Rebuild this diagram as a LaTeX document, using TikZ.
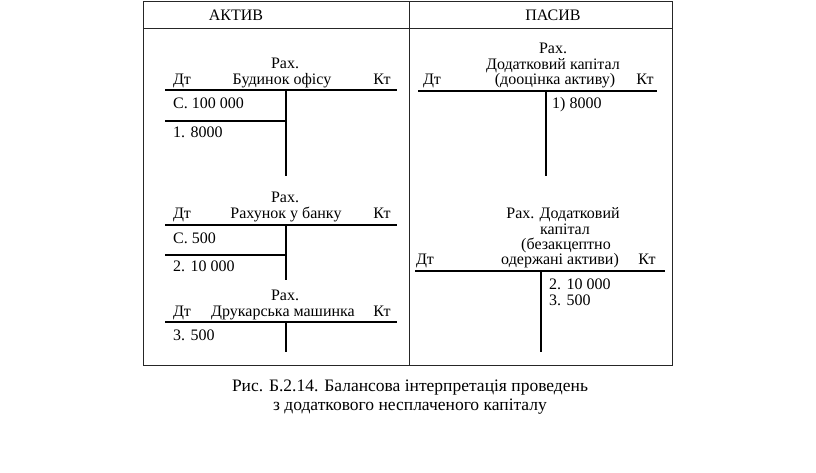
\documentclass[tikz,border=0pt]{standalone}
\usepackage{fontspec}
\setmainfont{Liberation Serif}
\begin{document}
\begin{tikzpicture}[x=1pt,y=-1pt,
  txt/.style={anchor=base,inner sep=0pt,font=\fontsize{16}{16}\selectfont},
  txtl/.style={txt,anchor=base west},
  captxt/.style={anchor=base,inner sep=0pt,font=\fontsize{17.5}{19}\selectfont},
  frame/.style={draw=black!85,line width=0.9pt},
  tline/.style={draw=black,line width=1.3pt}]
\useasboundingbox (0,0) rectangle (816,472);
% frame
\draw[frame] (143,1) rectangle (672,365);
\draw[frame] (143,28) -- (672,28);
\draw[frame] (409,1) -- (409,365);
\node[txt] (hA) at (236,20) {АКТИВ};
\node[txt] (hP) at (553,20) {ПАСИВ};
% account 1
\node[txt] (a1r) at (285,68) {Рах.};
\node[txt] (a1d) at (182,84) {Дт};
\node[txt] (a1n) at (282,84) {Будинок офісу};
\node[txt] (a1k) at (382,84) {Кт};
\draw[tline] (165,90) -- (397,90);
\draw[tline] (286,90) -- (286,176);
\draw[tline] (165,121) -- (286,121);
\node[txtl] (a1s) at (173,108) {С. 100 000};
\node[txtl] (a1o) at (173,137) {1. 8000};
% account 2
\node[txt] (a2r) at (285,202) {Рах.};
\node[txt] (a2d) at (182,218) {Дт};
\node[txt] (a2n) at (286,218) {Рахунок у банку};
\node[txt] (a2k) at (382,218) {Кт};
\draw[tline] (165,225) -- (397,225);
\draw[tline] (286,225) -- (286,280);
\draw[tline] (165,255) -- (286,255);
\node[txtl] (a2s) at (173,243) {С. 500};
\node[txtl] (a2o) at (173,271) {2. 10 000};
% account 3
\node[txt] (a3r) at (285,300) {Рах.};
\node[txt] (a3d) at (182,316) {Дт};
\node[txt] (a3n) at (283,316) {Друкарська машинка};
\node[txt] (a3k) at (382,316) {Кт};
\draw[tline] (165,322) -- (397,322);
\draw[tline] (286,322) -- (286,352);
\node[txtl] (a3o) at (173,340) {3. 500};
% account 4
\node[txt] (a4r) at (553,53) {Рах.};
\node[txt] (a4n1) at (553,69) {Додатковий капітал};
\node[txt] (a4d) at (432,84) {Дт};
\node[txt] (a4n2) at (555,84) {(дооцінка активу)};
\node[txt] (a4k) at (645,84) {Кт};
\draw[tline] (418,91) -- (657,91);
\draw[tline] (546,91) -- (546,176);
\node[txtl] (a4o) at (552,108) {1) 8000};
% account 5
\node[txt] (a5n1) at (563,218) {Рах. Додатковий};
\node[txt] (a5n2) at (565,234) {капітал};
\node[txt] (a5n3) at (566,249) {(безакцептно};
\node[txt] (a5d) at (425,264) {Дт};
\node[txt] (a5n4) at (560,264) {одержані активи)};
\node[txt] (a5k) at (647,264) {Кт};
\draw[tline] (415,271) -- (665,271);
\draw[tline] (541,271) -- (541,352);
\node[txtl] (a5o1) at (549,289) {2. 10 000};
\node[txtl] (a5o2) at (549,305) {3. 500};
% caption
\node[captxt] (c1) at (410,391) {Рис. Б.2.14. Балансова інтерпретація проведень};
\node[captxt] (c2) at (410,410) {з додаткового несплаченого капіталу};
\end{tikzpicture}
\end{document}
